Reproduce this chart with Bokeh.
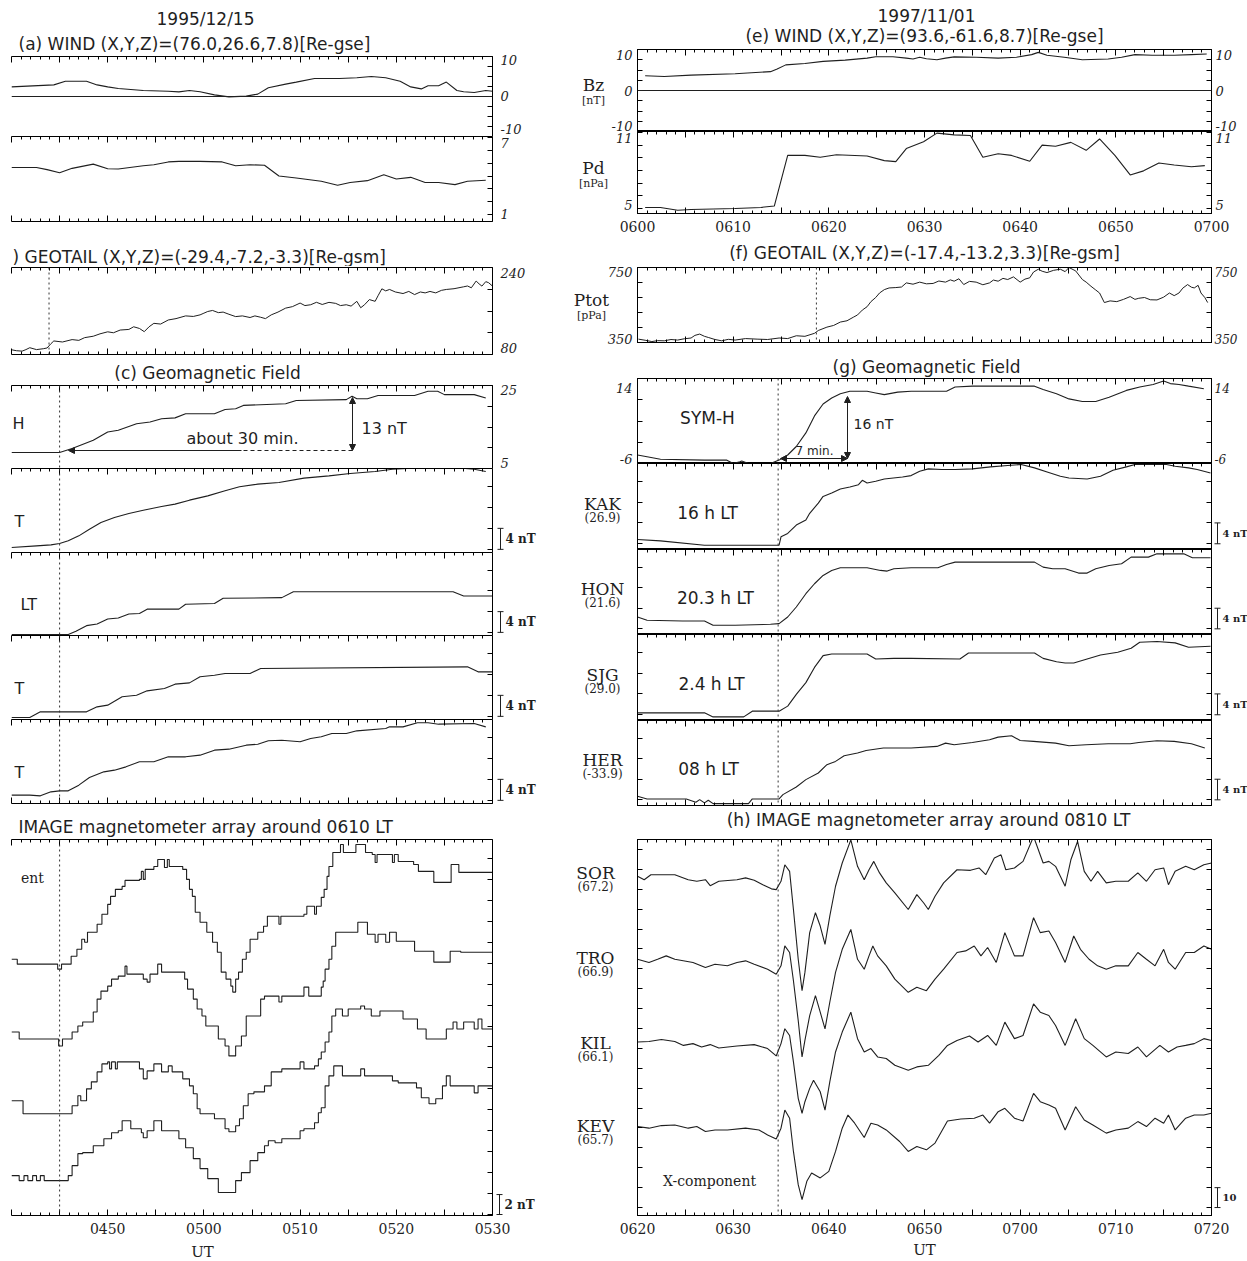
from bokeh.plotting import figure
from bokeh.layouts import column, row
from bokeh.models import (Range1d, LinearAxis, FixedTicker, Span, Label,
                          Arrow, NormalHead, TeeHead)
from bokeh.embed import file_html
from bokeh.resources import INLINE

# ====================== 1995/12/15 (left column) ======================
# time axis: minutes after 04:40 UT
A_BZ_T = [0, 4.4, 5.6, 7.8, 8.9, 10, 11.1, 13.7, 16.3, 17.4, 18.5, 19.6, 21.1, 22.6, 24.4, 25.6, 26.7,
          28.5, 29.6, 31.5, 34.1, 35.9, 37.4, 38.9, 40.4, 41.5, 42.6, 43.3, 44.4, 45.2, 46.3, 47.0, 48.1, 49.3, 50]
A_BZ = [2.4, 2.9, 3.8, 3.8, 2.9, 2.4, 2.0, 1.5, 1.3, 1.15, 1.5, 1.2, 0.4, -0.1, 0.1, 0.6, 2.2,
        3.1, 3.6, 4.5, 4.5, 4.7, 5.0, 4.7, 3.8, 2.4, 1.9, 2.7, 2.7, 3.6, 1.5, 1.2, 1.0, 1.5, 1.3]

A_PD_T = [0, 2.6, 3.7, 5.0, 6.3, 8.5, 10.0, 11.1, 13.7, 14.8, 16.3, 17.4, 19.6, 21.9, 23.3, 24.8, 26.3,
          27.8, 29.6, 32.2, 33.9, 35.2, 37.0, 38.7, 40.0, 41.5, 43.0, 44.4, 46.1, 47.4, 49.3]
A_PD = [4.67, 4.67, 4.5, 4.26, 4.6, 4.93, 4.57, 4.55, 4.8, 4.88, 5.1, 5.14, 5.14, 5.1, 4.8, 4.88, 4.84,
        4.0, 3.85, 3.6, 3.28, 3.5, 3.64, 4.1, 3.77, 3.9, 3.5, 3.5, 3.33, 3.6, 3.67]

B_PT_T = [0, 0.5, 1.1, 1.5, 1.9, 2.6, 3.3, 3.7, 4.1, 4.4, 5.3, 6.3, 7.0, 7.6, 8.5, 9.2, 10.0, 10.6, 11.3,
          12.2, 12.7, 13.3, 13.8, 14.3, 14.8, 15.5, 16.3, 17.1, 18.1, 18.9, 19.6, 20.0, 20.4, 20.9, 21.5,
          22.0, 22.6, 23.3, 24.0, 24.8, 25.3, 25.9, 26.4, 27.0, 27.7, 28.5, 29.2, 30.0, 30.5, 31.1, 31.7,
          32.3, 33.0, 33.7, 34.2, 34.8, 35.3, 35.9, 36.3, 36.7, 37.2, 37.8, 38.1, 38.5, 38.9, 39.3, 39.9,
          40.7, 41.3, 41.9, 42.5, 43.0, 43.5, 44.1, 44.7, 45.2, 46.0, 47.0, 47.4, 47.8, 48.3, 48.6, 48.9,
          49.3, 49.6, 50]
B_PT = [88.7, 87, 86.2, 89, 92.5, 89, 90.6, 92, 99.9, 104.9, 103, 107.4, 106, 111, 113.6, 118, 121.7, 120,
        125, 126.1, 131, 127.9, 122, 131, 137.3, 136, 143.5, 146, 151.0, 150, 152.9, 156, 159.1, 161, 157,
        158, 154, 149.7, 151, 148, 151, 148.5, 146, 152.9, 158, 165.3, 168, 174.6, 170, 171.5, 176, 172,
        175.9, 174, 170, 171.5, 169, 177.8, 166, 171.5, 181, 177.8, 188, 200.8, 197, 199.6, 195, 192.1,
        196, 190.2, 195, 193.3, 196, 193.3, 198, 199.6, 201, 204.5, 206, 202.7, 215.1, 210, 205.8, 214,
        212.0, 205.8]

C_SYM_T = [0, 5.0, 6.3, 8.5, 10.0, 11.1, 13.0, 14.4, 15.6, 17.0, 18.1, 21.1, 22.2, 23.3, 24.1, 28.5, 29.6,
           34.8, 35.4, 35.9, 37.0, 38.1, 41.9, 43.3, 44.3, 45.0, 48.1, 49.3]
C_SYM = [8.84, 8.84, 9.8, 11.8, 13.8, 14.2, 15.8, 16.2, 17.0, 17.2, 18.2, 18.2, 19.2, 19.4, 20.2, 20.6, 21.4,
         21.6, 22.4, 21.8, 21.8, 22.6, 22.6, 23.6, 23.6, 22.8, 22.8, 22.0]

C2_T = [0, 2.6, 4.1, 5.0, 5.9, 7.0, 8.1, 9.3, 10.7, 12.2, 13.7, 15.6, 17.0, 18.5, 20.4, 22.2, 23.7, 25.6,
        27.8, 30.4, 33.0, 35.2, 37.8, 39.6, 43.3, 44.4, 45.9, 48.1, 49.3]
C2 = [0.95, 1.27, 1.46, 1.71, 2.22, 3.17, 4.44, 5.71, 6.67, 7.43, 8.06, 8.76, 9.21, 9.97, 10.79, 11.75,
      12.51, 13.02, 13.33, 14.16, 14.60, 15.05, 15.43, 15.87, 16.19, 16.06, 16.19, 15.87, 15.43]
C3_T = [0, 5.9, 6.7, 7.8, 8.9, 10.0, 11.1, 12.2, 13.3, 14.1, 17.4, 18.1, 21.1, 22.0, 28.1, 29.3, 45.9, 47.0, 50]
C3 = [0.19, 0.19, 0.83, 1.90, 2.22, 3.17, 3.37, 4.13, 4.25, 5.08, 5.08, 6.03, 6.16, 7.17, 7.30, 8.44, 8.44,
      7.62, 7.62]
C4_T = [0, 1.9, 3.0, 7.8, 8.9, 10.0, 11.5, 13.0, 14.1, 15.9, 17.0, 18.5, 19.6, 21.1, 22.2, 24.8, 25.9,
        47.4, 48.5, 50]
C4 = [0.38, 0.38, 1.46, 1.46, 2.41, 2.73, 4.32, 4.63, 5.46, 5.90, 6.73, 6.98, 8.13, 8.44, 8.76, 8.76, 9.71,
      10.03, 9.08, 9.08]
C5_T = [0, 1.9, 3.0, 4.1, 5.0, 5.9, 7.0, 8.1, 9.6, 10.7, 11.9, 13.3, 14.8, 16.3, 18.1, 19.6, 21.1, 22.6,
        24.4, 25.6, 26.7, 28.1, 30.0, 31.1, 32.2, 33.3, 34.8, 35.9, 38.9, 39.3, 40.7, 42.2, 43.3, 44.4,
        48.1, 49.3]
C5 = [1.59, 1.59, 1.46, 2.22, 2.41, 2.41, 3.49, 4.95, 6.03, 6.35, 6.98, 7.94, 7.94, 8.89, 8.89, 9.21, 10.16,
      10.35, 11.11, 11.30, 11.94, 12.06, 11.75, 12.38, 12.70, 13.33, 13.33, 13.84, 14.29, 14.60, 14.60,
      15.37, 15.37, 15.11, 15.24, 14.60]

# IMAGE X-component (step data, nT relative to each trace's start level)
D1_T = [0.0, 0.6, 4.8, 5.2, 6.2, 6.8, 7.3, 7.6, 7.9, 8.9, 9.4, 10.0, 10.3, 10.8, 11.5, 11.8, 13.3, 13.5,
        13.7, 13.9, 14.8, 15.2, 15.9, 16.2, 16.4, 17.8, 18.2, 18.5, 18.8, 19.1, 19.6, 20.3, 20.9, 21.4,
        21.8, 22.3, 22.8, 23.0, 23.3, 23.6, 24.0, 24.4, 24.8, 25.6, 26.2, 26.6, 27.8, 28.0, 30.4, 30.7,
        31.5, 31.7, 32.2, 32.5, 32.8, 33.0, 33.4, 34.2, 34.5, 35.8, 36.8, 37.5, 37.8, 38.0, 39.6, 39.8,
        40.2, 41.8, 42.3, 43.9, 45.7, 46.5, 50.0]
D1 = [0.5, 0, -0.5, 0, 0.8, 1.5, 2.5, 2.2, 3.2, 4.0, 5.0, 6.0, 6.8, 7.5, 7.8, 8.4, 8.5, 9.3, 8.5, 9.5,
      9.8, 10.5, 9.7, 10.5, 9.8, 9.5, 8.5, 7.5, 6.8, 5.2, 4.2, 3.2, 2.2, 1.2, -0.8, -1.5, -2.2, -2.8,
      -1.5, -0.8, 0.5, 1.2, 2.5, 3.2, 3.8, 4.8, 4.0, 4.8, 5.0, 5.8, 5.0, 5.8, 6.7, 7.5, 8.8, 9.8, 11.2,
      12.0, 11.2, 12.0, 11.2, 11.0, 10.2, 11.0, 10.2, 11.0, 10.3, 10.0, 9.3, 8.2, 10.0, 9.2, 9.2]
D2_T = [0.0, 0.8, 4.9, 5.3, 6.3, 6.9, 7.4, 8.5, 8.9, 9.3, 10.0, 10.4, 11.1, 11.8, 12.0, 13.3, 13.7, 14.1,
        14.4, 15.2, 15.6, 17.4, 18.0, 18.3, 18.9, 19.3, 19.8, 20.2, 21.5, 22.2, 22.6, 23.3, 23.9, 24.4,
        25.9, 26.3, 27.8, 28.1, 30.4, 30.9, 32.2, 32.4, 32.6, 33.0, 33.3, 33.7, 36.0, 37.0, 37.8, 38.1,
        38.9, 39.3, 40.0, 41.9, 43.9, 45.6, 46.7, 50.0]
D2 = [0.7, 0, -0.7, 0, 0.7, 1.3, 1.7, 2.7, 4.0, 4.8, 5.3, 6.0, 6.3, 7.3, 6.5, 6.5, 6.0, 5.7, 6.5, 7.5,
      6.7, 6.7, 6.0, 5.0, 4.0, 3.0, 2.3, 1.3, 0, -0.7, -1.7, -0.7, 0.3, 2.3, 4.0, 4.3, 3.7, 4.3, 5.2,
      4.3, 5.2, 5.8, 7.0, 8.0, 9.3, 10.7, 11.7, 10.5, 9.7, 10.5, 9.7, 10.7, 9.8, 8.8, 7.7, 8.8, 8.7, 8.7]
D3_T = [0.0, 1.2, 6.3, 6.9, 7.2, 7.8, 8.3, 8.9, 9.4, 10.0, 10.2, 10.4, 10.8, 11.0, 13.3, 13.7, 14.1, 14.8,
        15.6, 16.3, 16.7, 17.8, 18.5, 18.9, 19.3, 19.6, 21.1, 22.2, 22.6, 23.3, 23.7, 24.1, 24.6, 25.2,
        26.3, 27.0, 28.1, 30.0, 30.4, 31.5, 31.9, 32.2, 32.6, 33.0, 33.3, 33.7, 34.4, 35.0, 36.3, 36.7,
        37.4, 38.3, 40.7, 42.2, 43.1, 45.2, 45.9, 46.3, 47.0, 48.1, 48.5, 48.9, 50.0]
D3 = [1.3, 0, 0.8, 1.8, 1.3, 2.5, 3.2, 4.2, 5.0, 5.2, 4.5, 5.2, 4.5, 5.2, 4.5, 3.5, 4.3, 5.0, 4.2, 4.8,
      4.2, 3.5, 2.8, 2.0, 0.5, 0, -0.5, -1.5, -1.8, -1.2, -0.5, 0.8, 2.0, 2.2, 2.8, 4.2, 4.5, 5.2, 4.5,
      4.8, 5.5, 6.2, 7.2, 8.2, 9.8, 10.5, 9.8, 10.5, 10.8, 10.5, 9.8, 10.3, 9.5, 8.5, 7.5, 8.5, 9.2, 8.5,
      9.2, 8.5, 9.5, 8.5, 8.5]
D4_T = [0.0, 0.8, 1.3, 1.7, 2.2, 2.6, 3.0, 3.4, 5.9, 6.3, 6.9, 7.4, 8.5, 9.6, 10.4, 11.1, 11.5, 12.4,
        13.5, 13.7, 14.1, 14.8, 15.6, 17.4, 18.1, 18.9, 19.6, 20.4, 21.5, 23.3, 23.9, 24.8, 25.6, 26.3,
        26.7, 27.4, 28.1, 30.0, 30.4, 31.5, 31.9, 32.2, 32.6, 33.0, 33.5, 34.4, 36.3, 36.7, 39.6, 40.2,
        42.1, 42.6, 43.4, 44.1, 44.8, 45.2, 45.6, 48.1, 48.5, 50.0]
D4 = [0.5, 0, 0.5, 0, 0.5, 0, 0.5, 0, 0.5, 1.5, 2.7, 2.8, 3.5, 4.2, 4.8, 5.0, 6.0, 5.2, 4.8, 4.3, 5.0,
      6.0, 5.0, 4.2, 3.3, 2.2, 1.2, 0.2, -1.2, 0, 0.8, 2.0, 2.8, 3.5, 4.0, 3.8, 4.2, 5.0, 5.2, 5.8, 6.8,
      7.3, 9.5, 10.5, 11.5, 10.5, 11.2, 10.5, 10.0, 9.8, 9.3, 8.3, 7.7, 8.2, 9.5, 10.5, 9.5, 8.8, 9.5, 9.5]
D_BASE = [25.2, 17.7, 10.2, 3.5]

# ====================== 1997/11/01 (right column) ======================
# time axis: minutes after 06:00 UT
E_BZ_T = [0.8, 2.8, 5.6, 10.2, 13.9, 14.6, 15.5, 17.5, 19.4, 21.7, 24.0, 24.9, 26.7, 28.1, 28.8, 29.5, 30.2,
          31.3, 32.2, 33.1, 35.4, 37.7, 39.6, 41.2, 41.9, 42.8, 44.6, 46.5, 49.2, 50.6, 52.0, 53.8, 56.1,
          57.9, 59.5]
E_BZ = [3.6, 3.4, 3.75, 4.1, 4.6, 5.25, 6.25, 6.6, 7.1, 7.4, 7.9, 8.25, 8.25, 7.9, 7.7, 8.1, 7.75, 7.5, 7.9,
        8.2, 8.1, 7.9, 8.1, 8.75, 9.3, 8.6, 8.1, 7.5, 7.7, 8.1, 8.75, 8.6, 8.6, 8.75, 8.9]

E_PD_T = [0.8, 2.4, 4.2, 5.6, 10.2, 12.9, 14.3, 15.7, 17.5, 19.1, 20.8, 24.0, 25.8, 27.0, 28.1, 29.9, 31.3,
          33.1, 34.8, 36.1, 37.7, 39.1, 41.0, 42.3, 43.7, 45.3, 46.9, 48.3, 49.9, 51.5, 52.9, 54.5, 56.1,
          57.9, 59.3]
E_PD = [5.08, 5.08, 4.86, 4.92, 5.0, 5.08, 5.19, 9.19, 9.19, 9.05, 9.24, 9.14, 8.78, 8.70, 9.73, 10.27,
        10.95, 10.81, 10.76, 9.05, 9.32, 9.19, 8.73, 10.0, 9.92, 10.22, 9.59, 10.49, 9.19, 7.65, 7.97, 8.59,
        8.43, 8.30, 8.38]

F_PT_T = [0.1, 0.8, 1.5, 2.1, 2.8, 3.5, 4.2, 4.9, 5.6, 6.0, 6.5, 7.0, 7.4, 8.1, 8.8, 9.5, 10.2, 11.3, 12.5,
          13.6, 14.8, 15.7, 16.6, 17.5, 18.5, 18.9, 19.8, 20.5, 21.2, 21.9, 22.6, 23.0, 23.5, 24.0, 24.4,
          24.9, 25.3, 25.8, 26.3, 27.0, 27.6, 28.1, 28.8, 29.5, 30.2, 30.9, 31.5, 32.2, 32.7, 33.1, 33.6,
          34.1, 34.7, 35.4, 36.1, 36.8, 37.2, 37.7, 38.2, 38.7, 39.3, 40.0, 40.5, 41.0, 41.4, 41.9, 42.3,
          42.8, 43.5, 44.2, 44.7, 45.1, 45.8, 46.5, 46.9, 47.4, 47.9, 48.3, 48.8, 49.4, 50.1, 50.8, 51.5,
          52.0, 52.4, 53.0, 53.6, 54.3, 55.0, 55.6, 56.1, 56.6, 57.0, 57.5, 57.9, 58.2, 58.6, 58.9, 59.3, 59.6]
F_PT = [368, 362, 355, 360, 359, 366, 363, 370, 374, 388, 395, 383, 377, 366, 359, 367, 363, 371, 368, 366,
        374, 371, 386, 383, 399, 414, 432, 441, 459, 466, 486, 497, 523, 541, 568, 590, 614, 632, 641, 643,
        646, 668, 661, 672, 663, 665, 678, 672, 684, 677, 690, 659, 676, 672, 658, 668, 683, 677, 692, 686,
        700, 672, 688, 695, 726, 741, 730, 723, 735, 741, 728, 750, 732, 686, 672, 650, 630, 614, 563, 572,
        568, 580, 595, 580, 586, 590, 578, 577, 592, 614, 600, 614, 640, 659, 645, 641, 655, 614, 590, 563]

G_SYM_T = [20.0, 21.0, 22.4, 27.0, 29.3, 30.0, 30.7, 30.9, 31.6, 33.9, 34.8, 35.7, 36.6, 37.6, 38.5, 39.4,
           40.3, 41.2, 42.2, 44.0, 44.9, 45.8, 47.2, 48.6, 52.3, 53.2, 55.0, 57.8, 61.5, 62.4, 63.8, 65.1,
           66.5, 67.9, 69.3, 71.1, 72.5, 73.9, 75.0, 75.7, 76.6, 77.6, 79.2]
G_SYM = [-4.0, -4.4, -5.0, -5.2, -5.2, -6.0, -5.6, -5.4, -6.0, -6.0, -5.2, -4.0, -2.0, 1.2, 5.2, 8.0, 9.4,
         10.4, 11.0, 11.0, 10.6, 10.2, 10.8, 11.0, 11.0, 12.0, 12.2, 12.2, 12.2, 11.4, 10.4, 9.2, 8.6, 8.6,
         9.6, 11.2, 12.0, 12.6, 13.4, 12.8, 12.6, 12.2, 11.6]

KAK_T = [20, 22.4, 27.0, 30.2, 33.9, 34.8, 35.0, 35.7, 36.6, 37.6, 38.0, 38.9, 39.4, 40.3, 41.2, 42.2, 43.1,
         43.5, 44.0, 44.9, 45.8, 47.7, 48.6, 49.5, 50.4, 51.8, 53.2, 55.0, 56.9, 58.7, 60.1, 61.5, 62.9,
         64.2, 65.1, 67.0, 68.4, 69.7, 71.1, 72.0, 73.4, 75.3, 76.2, 77.6, 78.5, 79.9]
KAK = [1.42, 1.16, 0.32, 0.32, 0.32, 0.32, 1.94, 2.58, 4.19, 5.16, 6.45, 8.39, 9.68, 10.32, 11.10, 11.48,
       11.94, 12.77, 12.26, 12.58, 13.03, 13.42, 13.68, 14.52, 14.97, 14.84, 14.84, 14.97, 15.35, 15.61,
       15.81, 15.16, 14.32, 13.55, 13.23, 13.03, 13.55, 14.71, 15.35, 15.81, 15.81, 15.81, 15.48, 15.16,
       14.84, 14.19]
HON_T = [20, 21.0, 24.7, 27.0, 27.9, 30.2, 33.9, 34.8, 35.7, 36.6, 37.6, 38.5, 39.4, 40.3, 41.2, 44.0, 45.4,
         46.1, 46.8, 48.6, 51.4, 52.3, 53.2, 56.0, 61.5, 62.4, 63.4, 64.7, 66.1, 67.0, 67.9, 69.3, 70.6,
         71.6, 73.4, 74.3, 77.1, 78.0, 79.9]
HON = [2.90, 2.26, 2.13, 2.13, 1.29, 1.29, 1.48, 1.61, 2.90, 4.84, 7.42, 9.35, 10.97, 11.94, 12.45, 12.45,
       11.94, 11.81, 12.26, 12.45, 12.45, 13.10, 13.55, 13.55, 13.55, 12.58, 12.26, 12.26, 11.42, 11.42,
       12.26, 12.90, 13.23, 14.52, 14.52, 15.16, 15.16, 14.39, 14.39]
SJG_T = [20, 27.0, 27.9, 31.1, 32.0, 34.8, 35.7, 36.6, 37.6, 38.5, 39.4, 40.3, 44.0, 44.9, 46.8, 48.6, 53.7,
         54.6, 57.8, 61.5, 62.4, 63.8, 64.7, 65.6, 67.0, 68.4, 70.2, 71.6, 72.5, 74.3, 76.2, 77.6, 79.9]
SJG = [0.97, 0.97, 0.19, 0.19, 1.29, 1.29, 2.26, 4.52, 6.77, 9.68, 11.94, 12.26, 12.26, 11.29, 11.42, 11.42,
       11.29, 12.45, 12.45, 12.45, 11.42, 10.77, 10.52, 10.52, 11.29, 12.06, 12.58, 13.35, 14.52, 14.65,
       14.39, 13.55, 13.74]
HER_T = [20, 21.0, 25.1, 26.1, 26.5, 27.0, 27.4, 27.9, 31.6, 32.0, 34.8, 35.2, 36.6, 37.6, 38.9, 39.8, 40.7,
         41.6, 43.0, 43.9, 45.7, 48.6, 51.3, 52.2, 53.1, 55.0, 56.8, 57.7, 59.1, 60.0, 61.4, 63.7, 65.1,
         66.9, 69.2, 71.5, 72.4, 74.3, 76.1, 77.9, 79.3]
HER = [1.29, 0.77, 0.77, 0.13, 0.65, 0.0, 0.52, -0.13, -0.13, 0.77, 0.77, 1.61, 3.10, 4.52, 5.81, 7.42,
       8.06, 9.16, 9.68, 10.19, 10.65, 10.65, 10.97, 11.61, 11.29, 11.74, 12.26, 12.77, 13.03, 12.13, 11.94,
       11.61, 11.10, 11.29, 11.48, 11.48, 11.74, 12.06, 11.94, 11.48, 10.65]

SOR_T = [20.0, 20.7, 21.4, 23.9, 25.3, 26.2, 27.1, 27.6, 28.5, 30.4, 31.3, 32.2, 33.1, 34.0, 34.5, 35.0,
         35.4, 35.9, 36.3, 36.8, 37.2, 37.5, 38.0, 38.6, 39.1, 39.6, 40.1, 40.7, 41.4, 42.3, 43.0, 43.7,
         44.2, 44.7, 45.3, 46.0, 46.9, 48.3, 49.2, 49.9, 50.4, 51.1, 52.0, 53.4, 54.8, 55.7, 56.4, 57.3,
         58.0, 58.5, 59.4, 60.3, 61.4, 62.4, 63.0, 63.7, 64.7, 65.3, 66.0, 66.7, 67.4, 68.1, 69.0, 70.0,
         71.3, 72.3, 73.2, 74.1, 75.0, 75.5, 76.2, 77.3, 78.2, 79.2, 80.0]
SOR = [0, -1.7, 0.8, 0.8, -1.7, -2.5, -1.7, -4.7, -2.5, -1.7, -0.8, -2.0, -4.2, -6.3, -6.7, -2.5, 5.8, 2.5,
       -16.7, -41.7, -57.5, -48.3, -28.3, -18.3, -25.0, -34.2, -20.0, -5.0, 6.7, 18.3, 5.0, -1.7, 3.3, 7.5,
       1.7, -3.3, -8.3, -16.7, -9.2, -13.3, -16.7, -10.0, -3.3, 3.3, 3.0, 4.2, 0.8, 9.2, 10.8, 3.3, 4.2,
       7.5, 20.0, 6.7, 7.5, 5.0, -5.0, 8.3, 17.5, 2.5, -2.5, 2.5, -3.3, -2.5, -2.5, 1.7, -2.5, 3.3, 4.2,
       -4.2, 2.5, 5.0, 3.3, 5.8, 6.7]
TRO_T = [20.0, 21.2, 22.1, 23.0, 23.9, 25.8, 27.1, 28.1, 29.4, 30.4, 31.3, 32.2, 33.6, 34.5, 35.0, 35.4,
         35.9, 36.3, 36.8, 37.2, 37.5, 38.0, 38.6, 39.1, 39.6, 40.1, 40.7, 41.4, 42.3, 43.0, 43.7, 44.2,
         44.6, 45.1, 46.0, 46.9, 48.3, 49.2, 50.2, 51.1, 52.0, 53.4, 54.3, 55.2, 55.9, 56.6, 57.5, 58.4,
         59.4, 60.3, 61.4, 62.1, 63.0, 63.7, 64.7, 65.6, 66.3, 67.2, 68.1, 69.0, 70.0, 71.3, 72.3, 73.2,
         74.1, 75.0, 75.5, 76.2, 77.3, 78.2, 79.2, 80.0]
TRO = [0.8, -0.8, 0.8, 2.5, 0.8, -0.8, -3.3, -1.7, -2.5, -0.8, 0, -1.7, -4.2, -6.7, -2.5, 7.5, 4.2, -10.0,
       -30.0, -48.3, -40.0, -27.5, -17.5, -25.8, -34.2, -20.8, -5.8, 5.8, 15.8, 0.8, -4.2, 2.5, 7.5, 2.5,
       -2.5, -9.2, -15.8, -13.3, -15.0, -9.2, -4.2, 4.2, 5.0, 7.5, 2.5, 6.7, -0.8, 14.2, 2.5, 2.5, 21.7,
       14.2, 15.0, 9.2, -0.8, 12.5, 5.8, 0.8, -2.5, -4.2, -2.5, -2.5, 4.2, 0.8, -2.5, 5.8, -0.8, -4.2, 4.2,
       4.2, 7.5, 5.8]
KIL_T = [20.0, 21.2, 22.5, 23.9, 24.8, 25.8, 26.7, 27.6, 28.5, 30.4, 32.2, 33.6, 34.5, 35.0, 35.4, 35.9,
         36.3, 36.8, 37.2, 37.5, 38.0, 38.4, 39.1, 39.6, 40.1, 40.7, 41.4, 42.3, 43.0, 43.7, 44.4, 45.1,
         46.0, 46.9, 48.3, 49.2, 50.4, 51.5, 52.4, 53.4, 54.7, 55.6, 56.6, 57.5, 58.4, 59.4, 60.3, 61.4,
         62.1, 63.0, 63.7, 64.7, 65.8, 66.7, 67.6, 69.0, 70.0, 71.3, 72.3, 73.2, 74.6, 75.5, 76.4, 77.3,
         78.2, 79.2, 80.0]
KIL = [0, 0.3, 1.3, 0.3, -1.7, -0.8, -2.5, -1.3, -3.0, -2.0, -1.3, -3.3, -7.0, -0.8, 6.7, 3.3, -10.0, -28.3,
       -35.8, -30.0, -23.3, -19.2, -25.0, -34.2, -20.0, -5.0, 5.0, 15.0, 1.7, -5.0, -3.3, -7.5, -8.3, -11.7,
       -14.2, -12.5, -11.7, -6.7, -1.7, 0.8, 3.0, 0, 3.3, -1.7, 10.0, 1.7, 3.3, 19.2, 15.0, 13.3, 8.3, -1.7,
       11.7, 1.7, -1.7, -7.5, -5.0, -5.8, -2.5, -7.5, -1.7, -5.0, -2.5, -1.7, -0.8, 1.7, 0.8]
KEV_T = [20.0, 21.2, 22.5, 23.9, 25.3, 26.2, 27.1, 28.1, 29.4, 31.3, 32.7, 33.6, 34.5, 35.0, 35.4, 35.9,
         36.3, 36.8, 37.2, 37.7, 38.2, 39.1, 40.0, 40.7, 41.4, 42.0, 42.7, 43.7, 44.4, 45.1, 46.0, 47.4,
         48.3, 49.2, 50.2, 51.1, 52.4, 53.8, 55.2, 56.1, 56.8, 57.7, 58.4, 59.4, 60.3, 61.4, 62.1, 63.0,
         63.7, 64.7, 65.8, 66.7, 67.6, 69.0, 70.0, 71.3, 72.3, 73.2, 74.1, 75.0, 75.5, 76.2, 77.3, 78.2,
         79.2, 80.0]
KEV = [0, -0.8, 0.5, 0.8, -0.8, 0, -2.5, -1.7, -1.7, -0.8, -1.7, -4.2, -6.2, -0.8, 8.3, 4.2, -12.5, -29.2,
       -36.7, -27.5, -23.3, -25.8, -22.5, -12.5, -0.8, 5.8, 1.7, -5.5, 1.7, 0.8, -1.7, -7.5, -12.5, -10.0,
       -11.7, -8.3, 2.8, 3.8, 4.2, 5.8, 1.7, 7.5, 9.2, 4.2, 2.8, 16.7, 12.5, 10.8, 9.2, -1.7, 10.0, 3.3, 0.8,
       -3.3, -1.7, -0.8, 2.5, 0, 4.2, 1.7, 5.8, -1.7, 4.2, 5.8, 5.8, 6.7]
H_BASE = [170.5, 128.0, 87.2, 44.7]

# ====================== styling / layout ======================
SANS = "DejaVu Sans"
SERIF = "DejaVu Serif"
INK = "#1f1f1f"
TITLE = 17


def base_fig(width, height, xr, yr, bl=0, br=0, bt=0, bb=0, outline="black"):
    p = figure(width=width, height=height, x_range=Range1d(*xr), y_range=Range1d(*yr),
               x_axis_location=None, y_axis_location=None, toolbar_location=None,
               output_backend="svg", min_border_left=bl, min_border_right=br,
               min_border_top=bt, min_border_bottom=bb, outline_line_color=outline,
               outline_line_width=1, background_fill_color="white", border_fill_color="white")
    p.xgrid.grid_line_color = None
    p.ygrid.grid_line_color = None
    return p


class Panel:
    """A data panel whose frame occupies page box (fx0..fx1, ftop..fbot)."""
    def __init__(self, xr, yr, fx0, fx1, ftop, fbot, bl=0, br=1, bt=0, bb=0, outline="black"):
        self.fx0, self.fx1, self.ftop, self.fbot = fx0, fx1, ftop, fbot
        self.xr, self.yr = xr, yr
        self.p = base_fig(bl + fx1 - fx0 + br, bt + fbot - ftop + bb, xr, yr, bl, br, bt, bb, outline)

    def dx(self, px):
        return self.xr[0] + (px - self.fx0) / (self.fx1 - self.fx0) * (self.xr[1] - self.xr[0])

    def dy(self, py):
        return self.yr[1] - (py - self.ftop) / (self.fbot - self.ftop) * (self.yr[1] - self.yr[0])

    def py(self, v):
        return self.ftop + (self.yr[1] - v) / (self.yr[1] - self.yr[0]) * (self.fbot - self.ftop)

    def text(self, px, py, s, size=16, font=SANS, align="center"):
        self.p.add_layout(Label(x=self.dx(px), y=self.dy(py), text=s, text_font=font,
                                text_font_size=f"{size}px", text_align=align,
                                text_baseline="middle", text_color=INK))

    def line(self, x, y, width=1.1):
        self.p.line(x, y, line_color=INK, line_width=width)

    def axis(self, side, ticks, minor=(), tin=5, min_in=3):
        ax = LinearAxis(ticker=FixedTicker(ticks=list(ticks), minor_ticks=list(minor)),
                        major_tick_in=tin, major_tick_out=0, minor_tick_in=min_in, minor_tick_out=0,
                        axis_line_color="black", major_tick_line_color="black",
                        minor_tick_line_color="black", major_label_standoff=0,
                        major_label_text_font_size="0px",
                        major_label_overrides={t: "" for t in ticks})
        self.p.add_layout(ax, side)

    def xaxes(self, bottom=False):
        x0, x1 = int(self.xr[0]), int(self.xr[1])
        major = list(range(x0, x1 + 1, 5))
        minor = [m for m in range(x0, x1 + 1) if m % 5]
        self.axis("above", major, minor, tin=6)
        if bottom:
            self.axis("below", major, minor, tin=6)

    def vdot(self, t):
        self.p.add_layout(Span(location=t, dimension="height", line_color="#333333",
                               line_width=1, line_dash="2 3"))

    def zero(self):
        self.p.add_layout(Span(location=0, dimension="width", line_color=INK, line_width=1.2))

    def arrow(self, x0, y0, x1, y1, start=False, end=False, dash="solid"):
        sh = NormalHead(size=6, fill_color=INK, line_color=INK) if start else None
        eh = NormalHead(size=6, fill_color=INK, line_color=INK) if end else None
        self.p.add_layout(Arrow(x_start=self.dx(x0), y_start=self.dy(y0), x_end=self.dx(x1),
                                y_end=self.dy(y1), start=sh, end=eh, line_color=INK, line_width=1,
                                line_dash=dash))


class Strip:
    """Text-only area; its data coordinates are page pixels.
    bl/br mirror the borders its column neighbours have, because Bokeh aligns frames in a column."""
    def __init__(self, x0, x1, y0, y1, bl=0, br=0):
        self.p = base_fig(x1 - x0, y1 - y0, (x0 + bl, x1 - br), (y1, y0), bl=bl, br=br, outline=None)

    def text(self, x, y, s, size=16, font=SANS, style="normal", align="center"):
        self.p.add_layout(Label(x=x, y=y, text=s, text_font=font, text_font_size=f"{size}px",
                                text_font_style=style, text_align=align, text_baseline="middle",
                                text_color=INK))

    def num(self, x, y, s, align="left", size=13):
        self.text(x, y, s, size=size, font=SERIF, style="italic", align=align)

    def bar(self, x, ya, yb, s, size=12):
        self.p.add_layout(Arrow(x_start=x, y_start=ya, x_end=x, y_end=yb,
                                start=TeeHead(size=6, line_color=INK, line_width=1),
                                end=TeeHead(size=6, line_color=INK, line_width=1),
                                line_color=INK, line_width=1))
        self.text(x + 5, (ya + yb) / 2, s, size=size, font=SERIF, style="bold", align="left")


def axis_strip(cx0, cw, fx0, fx1, xr, y0, y1, base, blank_first=False):
    p = base_fig(cw, y1 - y0, xr, (0, 1), bl=fx0 - cx0, br=cx0 + cw - fx1, bt=0, bb=y1 - y0 - 1,
                 outline=None)
    x0, x1 = int(xr[0]), int(xr[1])
    ticks = list(range(x0, x1 + 1, 10))
    labels = {}
    for k in ticks:
        tot = base + k
        labels[k] = f"{tot // 60:02d}{tot % 60:02d}"
    if blank_first:
        labels[x0] = ""
    ax = LinearAxis(ticker=FixedTicker(ticks=ticks), major_label_overrides=labels,
                    axis_line_color=None, major_tick_line_color=None, minor_tick_line_color=None,
                    major_tick_in=0, major_tick_out=0, minor_tick_in=0, minor_tick_out=0,
                    major_label_standoff=5, major_label_text_font=SERIF,
                    major_label_text_font_size="14px", major_label_text_color=INK)
    p.add_layout(ax, "below")
    return p


# ============================ LEFT COLUMN ============================
LX0, LX1 = 11, 492          # frame x-extent (page px)
LW = 493                    # panel canvas width (0..493)
LXR = (0, 50)

ts_a = Strip(0, LW, 0, 55, bl=11, br=1)
ts_a.text(205, 18, "1995/12/15", size=TITLE)
ts_a.text(18, 43, "(a) WIND (X,Y,Z)=(76.0,26.6,7.8)[Re-gse]", size=TITLE, align="left")

a1 = Panel(LXR, (-10, 10), LX0, LX1, 56, 136, bl=11, bt=1, outline=None)
a1.line(A_BZ_T, A_BZ)
a1.zero()
a1.xaxes()
a1.axis("right", [-10 + 2.5 * k for k in range(9)])

a2 = Panel(LXR, (0.46, 7.08), LX0, LX1, 136, 221, bl=11, bb=1, outline=None)
a2.line(A_PD_T, A_PD)
a2.xaxes(bottom=True)
a2.axis("right", [1, 2, 3, 4, 5, 6, 7])

ts_b = Strip(0, LW, 222, 266, bl=11, br=1)
ts_b.text(12, 256, ") GEOTAIL (X,Y,Z)=(-29.4,-7.2,-3.3)[Re-gsm]", size=TITLE, align="left")

b = Panel(LXR, (80, 240), LX0, LX1, 267, 354, bl=11, bt=1, bb=1, outline=None)
b.line(B_PT_T, B_PT, 1.0)
b.vdot(3.9)
b.xaxes(bottom=True)
b.axis("right", [80, 120, 160, 200, 240])

ts_c = Strip(0, LW, 355, 384, bl=11, br=1)
ts_c.text(207, 372, "(c) Geomagnetic Field", size=TITLE)

c1 = Panel(LXR, (5, 25), LX0, LX1, 385, 468, bl=11, bt=1, outline=None)
c1.line(C_SYM_T, C_SYM)
c1.vdot(5.0)
c1.xaxes()
c1.axis("right", [5, 10, 15, 20, 25])
c1.text(12, 423, "H", align="left")
c1.arrow(241, 450, 68, 450, end=True)
c1.arrow(352, 450, 241, 450, dash="4 3")
c1.arrow(352, 450, 352, 397, start=True, end=True)
c1.text(361, 428, "13 nT", align="left")
c1.text(242, 438, "about 30 min.")

cdata = [(C2_T, C2), (C3_T, C3), (C4_T, C4), (C5_T, C5)]
cb = [(468, 552), (552, 635), (635, 719), (719, 803)]
frag = [("T", 14), ("LT", 20), ("T", 14), ("T", 14)]
cpanels = []
for i in range(4):
    P = Panel(LXR, (0, 16), LX0, LX1, cb[i][0], cb[i][1], bl=11, bb=1 if i == 3 else 0, outline=None)
    P.line(*cdata[i])
    P.vdot(5.0)
    P.xaxes(bottom=(i == 3))
    P.axis("right", [0.6, 4.6, 8.6, 12.6])
    P.text(frag[i][1], cb[i][1] - 31, frag[i][0], align="left")
    cpanels.append(P)

ts_d = Strip(0, LW, 804, 838, bl=11, br=1)
ts_d.text(18, 826, "IMAGE magnetometer array around 0610 LT", size=TITLE, align="left")

d = Panel(LXR, (0, 37.7), LX0, LX1, 839, 1215, bl=11, bt=1, bb=1, outline=None)
for (tt, vv), off in zip([(D1_T, D1), (D2_T, D2), (D3_T, D3), (D4_T, D4)], D_BASE):
    d.p.step(tt, [v + off for v in vv], mode="after", line_color=INK, line_width=1.1)
d.vdot(5.0)
d.xaxes(bottom=True)
d.axis("right", [round(0.1 + 2.1 * k, 2) for k in range(18)])
d.text(32, 877, "ent", size=14, font=SERIF)

# right-hand label strip of the left column (page x 493..560, y 0..1216)
rs_l = Strip(493, 560, 0, 1216)
for yy, s in [(59, "10"), (95, "0"), (128, "-10"), (142, "7"), (213, "1"), (272, "240"), (347, "80"),
              (389, "25"), (462, "5")]:
    rs_l.num(500, yy, s)
for P in cpanels:
    rs_l.bar(500, P.py(0.6), P.py(4.6), "4 nT")
rs_l.bar(499, d.py(0.1), d.py(2.1), "2 nT")

ax_d = axis_strip(0, 560, LX0, LX1, LXR, 1216, 1242, 4 * 60 + 40, blank_first=True)
ts_ut_l = Strip(0, 560, 1242, 1259, bl=LX0, br=560 - LX1)
ts_ut_l.text(202, 1251, "UT", size=15, font=SERIF)

left_col = column(
    row(column(ts_a.p, a1.p, a2.p, ts_b.p, b.p, ts_c.p, c1.p, *[P.p for P in cpanels], ts_d.p, d.p),
        rs_l.p),
    ax_d, ts_ut_l.p)

# ============================ RIGHT COLUMN ============================
RX0, RX1 = 637, 1211
RW0, RW1 = 636, 1212          # panel canvas x-extent

ts_e = Strip(RW0, RW1, 0, 48, bl=1, br=1)
ts_e.text(926, 15, "1997/11/01", size=TITLE)
ts_e.text(924, 35, "(e) WIND (X,Y,Z)=(93.6,-61.6,8.7)[Re-gse]", size=TITLE)

e1 = Panel((0, 60), (-10, 10), RX0, RX1, 49, 131, bl=1, bt=1)
e1.line(E_BZ_T, E_BZ)
e1.zero()
e1.xaxes()
yt = [-10 + 2.5 * k for k in range(9)]
e1.axis("left", yt); e1.axis("right", yt)

e2 = Panel((0, 60), (4.6, 11.08), RX0, RX1, 131, 213, bl=1, bb=1)
e2.line(E_PD_T, E_PD)
e2.xaxes(bottom=True)
yt = [5, 6, 7, 8, 9, 10, 11]
e2.axis("left", yt); e2.axis("right", yt)

ls1 = Strip(560, RW0, 0, 214)
ls1.text(593, 84, "Bz", size=17, font=SERIF)
ls1.text(593, 100, "[nT]", size=11, font=SERIF)
ls1.text(593, 167, "Pd", size=17, font=SERIF)
ls1.text(593, 183, "[nPa]", size=11, font=SERIF)
rs1 = Strip(RW1, 1247, 0, 214)
for yy, s in [(54, "10"), (90, "0"), (125, "-10"), (137, "11"), (204, "5")]:
    ls1.num(632, yy, s, align="right")
    rs1.num(1215, yy, s)

ax_e = axis_strip(560, 687, RX0, RX1, (0, 60), 214, 240, 6 * 60)

ts_f = Strip(RW0, RW1, 240, 266, bl=1, br=1)
ts_f.text(924, 252, "(f) GEOTAIL (X,Y,Z)=(-17.4,-13.2,3.3)[Re-gsm]", size=TITLE)

f = Panel((0, 60), (350, 750), RX0, RX1, 267, 342, bl=1, bt=1, bb=1)
f.line(F_PT_T, F_PT, 1.0)
f.vdot(18.7)
f.xaxes(bottom=True)
yt = [350, 430, 510, 590, 670, 750]
f.axis("left", yt); f.axis("right", yt)

ts_g = Strip(RW0, RW1, 343, 377, bl=1, br=1)
ts_g.text(926, 366, "(g) Geomagnetic Field", size=TITLE)

g1 = Panel((20, 80), (-6, 14), RX0, RX1, 378, 463, bl=1, bt=1)
g1.line(G_SYM_T, G_SYM)
g1.vdot(34.7)
g1.xaxes()
yt = [-6, -1, 4, 9, 14]
g1.axis("left", yt); g1.axis("right", yt)
g1.text(707, 417, "SYM-H", size=17)
g1.arrow(847, 458, 847, 396, start=True, end=True)
g1.arrow(780, 458, 847, 458, start=True, end=True)
g1.text(814, 450, "7 min.", size=12)
g1.text(853, 423, "16 nT", size=14, align="left")

gdata = [(KAK_T, KAK), (HON_T, HON), (SJG_T, SJG), (HER_T, HER)]
gname = ["KAK", "HON", "SJG", "HER"]
glat = ["(26.9)", "(21.6)", "(29.0)", "(-33.9)"]
glt = ["16 h LT", "20.3 h LT", "2.4 h LT", "08 h LT"]
glt_x = [707, 715, 711, 708]
gb = [(463, 549), (549, 634), (634, 720), (720, 805)]
gpanels = []
for i in range(4):
    P = Panel((20, 80), (-0.5, 16), RX0, RX1, gb[i][0], gb[i][1], bl=1, bb=1 if i == 3 else 0)
    P.line(*gdata[i])
    P.vdot(34.7)
    P.xaxes(bottom=(i == 3))
    yt = [0.6, 4.6, 8.6, 12.6]
    P.axis("left", yt); P.axis("right", yt)
    P.text(glt_x[i], gb[i][1] - 37, glt[i], size=17)
    gpanels.append(P)

ts_h = Strip(RW0, RW1, 806, 838, bl=1, br=1)
ts_h.text(928, 819, "(h) IMAGE magnetometer array around 0810 LT", size=TITLE)

h = Panel((20, 80), (0, 189), RX0, RX1, 839, 1215, bl=1, bt=1, bb=1)
for (tt, vv), off in zip([(SOR_T, SOR), (TRO_T, TRO), (KIL_T, KIL), (KEV_T, KEV)], H_BASE):
    h.line(tt, [v + off for v in vv], 1.1)
h.vdot(34.7)
h.xaxes(bottom=True)
yt = [4 + 10 * k for k in range(19)]
h.axis("left", yt); h.axis("right", yt)
h.text(709, 1180, "X-component", size=14, font=SERIF)

ls2 = Strip(560, RW0, 240, 1216)
rs2 = Strip(RW1, 1247, 240, 1216)
ls2.text(591, 299, "Ptot", size=17, font=SERIF)
ls2.text(591, 315, "[pPa]", size=11, font=SERIF)
for yy, s in [(271, "750"), (338, "350"), (387, "14"), (458, "-6")]:
    ls2.num(632, yy, s, align="right")
    rs2.num(1214, yy, s, size=12)
for i, P in enumerate(gpanels):
    ls2.text(602, gb[i][1] - 46, gname[i], size=17, font=SERIF)
    ls2.text(602, gb[i][1] - 32, glat[i], size=12, font=SERIF)
    rs2.bar(1217, P.py(0.6), P.py(4.6), "4 nT", size=10)
for nm, la, yy in [("SOR", "(67.2)", 872), ("TRO", "(66.9)", 957), ("KIL", "(66.1)", 1042),
                   ("KEV", "(65.7)", 1125)]:
    ls2.text(595, yy, nm, size=17, font=SERIF)
    ls2.text(595, yy + 14, la, size=12, font=SERIF)
rs2.bar(1217, h.py(4), h.py(14), "10", size=10)

ax_h = axis_strip(560, 687, RX0, RX1, (20, 80), 1216, 1242, 6 * 60)
ts_ut_r = Strip(560, 1247, 1242, 1259, bl=RX0 - 560, br=1247 - RX1)
ts_ut_r.text(924, 1249, "UT", size=15, font=SERIF)

right_col = column(
    row(ls1.p, column(ts_e.p, e1.p, e2.p), rs1.p),
    ax_e,
    row(ls2.p, column(ts_f.p, f.p, ts_g.p, g1.p, *[P.p for P in gpanels], ts_h.p, h.p), rs2.p),
    ax_h, ts_ut_r.p)

layout = row(left_col, right_col)
with open("out.html", "w") as fh:
    fh.write(file_html(layout, INLINE, "Sudden commencement comparison"))
